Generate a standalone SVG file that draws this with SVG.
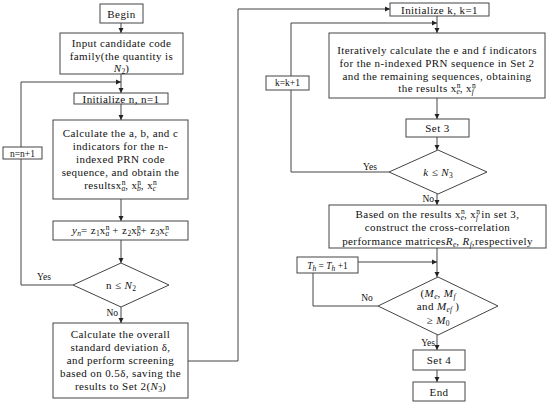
<svg xmlns="http://www.w3.org/2000/svg" width="550" height="402" viewBox="0 0 550 402" font-family="'Liberation Serif', serif">
<defs>
<style>
.b{fill:#fff;stroke:#444;stroke-width:1}
.c{fill:none;stroke:#444;stroke-width:1}
text{font-family:"Liberation Serif","DejaVu Serif",serif;font-size:11px;letter-spacing:0.4px;fill:#111;text-anchor:middle}
.s{font-size:9.5px;letter-spacing:0}
.e{text-anchor:end}
.i{font-style:italic}
.sb{font-size:7.5px;letter-spacing:0}
</style>
<marker id="a" markerWidth="6" markerHeight="6" refX="5" refY="3" orient="auto" markerUnits="userSpaceOnUse">
<path d="M0,0.5 L5,3 L0,5.5 Z" fill="#222"/>
</marker>
</defs>
<g id="connectors">
<path class="c" d="M121,23 V33" marker-end="url(#a)"/>
<path class="c" d="M121,74 V93" marker-end="url(#a)"/>
<path class="c" d="M73,285 H21 V82 H121" marker-end="url(#a)"/>
<path class="c" d="M121,104 V120" marker-end="url(#a)"/>
<path class="c" d="M121,199 V221" marker-end="url(#a)"/>
<path class="c" d="M121,240 V263" marker-end="url(#a)"/>
<path class="c" d="M121,307 V323" marker-end="url(#a)"/>
<path class="c" d="M188,361 H238 V9 H390" marker-end="url(#a)"/>
<path class="c" d="M437,16 V33" marker-end="url(#a)"/>
<path class="c" d="M389,172 H291 V23 H437" marker-end="url(#a)"/>
<path class="c" d="M437,98 V119" marker-end="url(#a)"/>
<path class="c" d="M437,137 V150" marker-end="url(#a)"/>
<path class="c" d="M437,194 V205" marker-end="url(#a)"/>
<path class="c" d="M437,248 V277" marker-end="url(#a)"/>
<path class="c" d="M358,262 H437" marker-end="url(#a)"/>
<path class="c" d="M313,273 V306 H378"/>
<path class="c" d="M437,335 V350" marker-end="url(#a)"/>
<path class="c" d="M437,370 V382" marker-end="url(#a)"/>
<text x="44" y="280" class="s">Yes</text>
<text x="118" y="316" class="s e">No</text>
<text x="370" y="170" class="s">Yes</text>
<text x="434" y="202" class="s e">No</text>
<text x="367" y="301" class="s">No</text>
<text x="435" y="346" class="s e">Yes</text>
</g>
<g id="begin">
<rect class="b" x="100" y="4" width="43" height="19"/>
<text x="121.5" y="18">Begin</text>
</g>
<g id="input">
<rect class="b" x="60" y="33" width="123" height="41"/>
<text x="121.5" y="47">Input candidate code</text>
<text x="121.5" y="60">family(the quantity is</text>
<text x="121.5" y="72"><tspan class="i">N</tspan><tspan class="sb" dy="2">2</tspan><tspan dy="-2">)</tspan></text>
</g>
<g id="init-n">
<rect class="b" x="74" y="93" width="94" height="11"/>
<text x="121" y="102.5">Initialize n, n=1</text>
</g>
<g id="calc-abc">
<rect class="b" x="53" y="120" width="135" height="79"/>
<text x="120.5" y="137">Calculate the a, b, and c</text>
<text x="120.5" y="150">indicators for the n-</text>
<text x="120.5" y="163">indexed PRN code</text>
<text x="120.5" y="176">sequence, and obtain the</text>
<text x="120.5" y="189">resultsx<tspan class="sb" dy="-4">n</tspan><tspan class="sb i" dx="-4" dy="6">a</tspan><tspan dy="-2">, x</tspan><tspan class="sb" dy="-4">n</tspan><tspan class="sb i" dx="-4" dy="6">b</tspan><tspan dy="-2">, x</tspan><tspan class="sb" dy="-4">n</tspan><tspan class="sb i" dx="-4" dy="6">c</tspan></text>
</g>
<g id="yn">
<rect class="b" x="53" y="221" width="135" height="19"/>
<text x="120.5" y="234"><tspan class="i">y</tspan><tspan class="sb i" dy="2">n</tspan><tspan dy="-2">= z</tspan><tspan class="sb" dy="2">1</tspan><tspan dy="-2">x</tspan><tspan class="sb" dy="-4">n</tspan><tspan class="sb i" dx="-4" dy="6">a</tspan><tspan dy="-2"> +  z</tspan><tspan class="sb" dy="2">2</tspan><tspan dy="-2">x</tspan><tspan class="sb" dy="-4">n</tspan><tspan class="sb i" dx="-4" dy="6">b</tspan><tspan dy="-2">+  z</tspan><tspan class="sb" dy="2">3</tspan><tspan dy="-2">x</tspan><tspan class="sb" dy="-4">n</tspan><tspan class="sb i" dx="-4" dy="6">c</tspan></text>
</g>
<g id="dec-n">
<polygon class="b" points="121,263 169,285 121,307 73,285"/>
<text x="121" y="289">n ≤ <tspan class="i">N</tspan><tspan class="sb" dy="2">2</tspan></text>
</g>
<g id="n-inc">
<rect class="b" x="3" y="147" width="39" height="12"/>
<text x="22.5" y="156.5" class="s">n=n+1</text>
</g>
<g id="calc-std">
<rect class="b" x="53" y="323" width="135" height="75"/>
<text x="120.5" y="338">Calculate the overall</text>
<text x="120.5" y="351">standard deviation δ,</text>
<text x="120.5" y="363.5">and perform screening</text>
<text x="120.5" y="377">based on 0.5δ, saving the</text>
<text x="120.5" y="390">results to Set 2(<tspan class="i">N</tspan><tspan class="sb" dy="2">3</tspan><tspan dy="-2">)</tspan></text>
</g>
<g id="init-k">
<rect class="b" x="390" y="3" width="99" height="13"/>
<text x="439.5" y="13.5">Initialize k, k=1</text>
</g>
<g id="k-inc">
<rect class="b" x="266" y="76" width="43" height="14"/>
<text x="287.5" y="86" class="s">k=k+1</text>
</g>
<g id="iter">
<rect class="b" x="329" y="33" width="216" height="65"/>
<text x="437" y="54">Iteratively calculate the e and f indicators</text>
<text x="437" y="67">for the n-indexed PRN sequence in Set 2</text>
<text x="437" y="80">and the remaining sequences, obtaining</text>
<text x="437" y="92">the results x<tspan class="sb" dy="-4">n</tspan><tspan class="sb i" dx="-4" dy="6">e</tspan><tspan dy="-2">, x</tspan><tspan class="sb" dy="-4">n</tspan><tspan class="sb i" dx="-4" dy="6">f</tspan></text>
</g>
<g id="set3">
<rect class="b" x="406" y="119" width="63" height="18"/>
<text x="437.5" y="132">Set 3</text>
</g>
<g id="dec-k">
<polygon class="b" points="438,150 487,172 438,194 389,172"/>
<text x="438" y="176"><tspan class="i">k</tspan> ≤ <tspan class="i">N</tspan><tspan class="sb" dy="2">3</tspan></text>
</g>
<g id="based">
<rect class="b" x="329" y="205" width="217" height="43"/>
<text x="437.5" y="218">Based on the results x<tspan class="sb" dy="-4">n</tspan><tspan class="sb i" dx="-4" dy="6">e</tspan><tspan dy="-2">, x</tspan><tspan class="sb" dy="-4">n</tspan><tspan class="sb i" dx="-4" dy="6">f</tspan><tspan dy="-2"> in set 3,</tspan></text>
<text x="437.5" y="231">construct the cross-correlation</text>
<text x="437.5" y="245">performance matrices<tspan class="i">R</tspan><tspan class="sb i" dy="2">e</tspan><tspan dy="-2">, </tspan><tspan class="i">R</tspan><tspan class="sb i" dy="2">f</tspan><tspan dy="-2">,respectively</tspan></text>
</g>
<g id="th-inc">
<rect class="b" x="297" y="257" width="61" height="16"/>
<text x="327.5" y="268.5" class="s"><tspan class="i">T</tspan><tspan class="sb i" dy="2">h</tspan><tspan dy="-2"> = </tspan><tspan class="i">T</tspan><tspan class="sb i" dy="2">h</tspan><tspan dy="-2"> +1</tspan></text>
</g>
<g id="dec-m">
<polygon class="b" points="438,277 498,306 438,335 378,306"/>
<text x="438" y="297">(<tspan class="i">M</tspan><tspan class="sb i" dy="2">e</tspan><tspan dy="-2">,  </tspan><tspan class="i">M</tspan><tspan class="sb i" dy="2">f</tspan></text>
<text x="438" y="310">and <tspan class="i">M</tspan><tspan class="sb i" dy="2">ef</tspan><tspan dy="-2"> )</tspan></text>
<text x="438" y="324">≥ <tspan class="i">M</tspan><tspan class="sb" dy="2">0</tspan></text>
</g>
<g id="set4">
<rect class="b" x="413" y="350" width="52" height="20"/>
<text x="439" y="364">Set 4</text>
</g>
<g id="end">
<rect class="b" x="413" y="382" width="52" height="19"/>
<text x="439" y="395.5">End</text>
</g>
</svg>
